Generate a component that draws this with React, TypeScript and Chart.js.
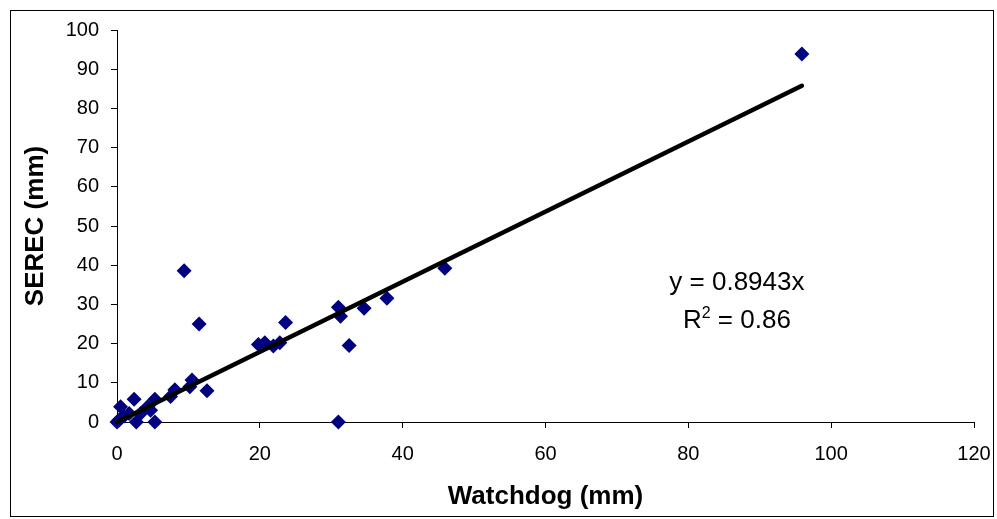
import React, { useEffect, useRef } from "react";
import { Chart, registerables } from "chart.js";

Chart.register(...registerables);

const watchdogX = [0, 0.3, 0.5, 1.0, 1.7, 2.4, 2.7, 3.3, 4.3, 4.7, 5.3, 5.3, 7.5, 8.1, 9.4, 10.2, 10.5, 11.5, 12.6, 19.8, 20.7, 21.9, 22.8, 23.6, 31.0, 31.3, 32.5, 31.0, 34.6, 37.8, 45.9, 95.9];
const serecY = [0, 0.5, 3.9, 1.5, 2.2, 5.8, 0, 2.2, 3.9, 3.0, 5.8, 0, 6.5, 8.2, 38.6, 9.0, 10.7, 25.0, 8.0, 19.8, 20.2, 19.4, 20.2, 25.4, 29.3, 27.0, 19.5, 0, 29.0, 31.6, 39.2, 93.9];
const trendSlope = 0.8943;
const trendX = [0, 95.9];
const rSquared = "0.86";
const xTicks = [0, 20, 40, 60, 80, 100, 120];
const yTicks = [0, 10, 20, 30, 40, 50, 60, 70, 80, 90, 100];

const FONT = "'Liberation Sans', Arial, sans-serif";

const decorPlugin = {
  id: "decor",
  afterDraw(chart: any) {
    const ctx = chart.ctx;
    ctx.save();
    ctx.strokeStyle = "#000";
    ctx.lineWidth = 1;
    ctx.strokeRect(10.5, 10.5, 983, 506);
    const xs = chart.scales.x;
    const ys = chart.scales.y;
    const cx = xs.getPixelForValue(86.8);
    ctx.fillStyle = "#000";
    ctx.textBaseline = "alphabetic";
    ctx.font = `26px ${FONT}`;
    const line1 = `y = ${trendSlope}x`;
    const w1 = ctx.measureText(line1).width;
    ctx.fillText(line1, cx - w1 / 2, ys.getPixelForValue(33.8));
    const partR = "R";
    const partRest = ` = ${rSquared}`;
    const wR = ctx.measureText(partR).width;
    const wRest = ctx.measureText(partRest).width;
    ctx.font = `16px ${FONT}`;
    const wSup = ctx.measureText("2").width;
    const total = wR + wSup + wRest;
    const x0 = cx - total / 2;
    const base2 = ys.getPixelForValue(24.1);
    ctx.font = `26px ${FONT}`;
    ctx.fillText(partR, x0, base2);
    ctx.fillText(partRest, x0 + wR + wSup, base2);
    ctx.font = `16px ${FONT}`;
    ctx.fillText("2", x0 + wR, base2 - 10);
    ctx.restore();
  },
};

export default function App() {
  const ref = useRef<HTMLCanvasElement | null>(null);
  useEffect(() => {
    document.body.style.margin = "0";
    const points = watchdogX.map((x, i) => ({ x, y: serecY[i] }));
    const trend = trendX.map((x) => ({ x, y: x * trendSlope }));
    const chart = new Chart(ref.current!, {
      type: "scatter",
      data: {
        datasets: [
          {
            type: "line",
            data: trend,
            borderColor: "#000",
            borderWidth: 4.5,
            borderCapStyle: "round",
            pointRadius: 0,
            showLine: true,
            clip: false,
            order: 0,
          } as any,
          {
            data: points,
            pointStyle: "rectRot",
            pointRadius: 7.5,
            backgroundColor: "#000080",
            borderColor: "#000080",
            borderWidth: 0,
            clip: false,
            order: 1,
          } as any,
        ],
      },
      options: {
        animation: false,
        responsive: false,
        layout: { padding: { top: 30, right: 23, left: 0, bottom: 0 } },
        plugins: { legend: { display: false }, tooltip: { enabled: false } },
        scales: {
          x: {
            type: "linear",
            min: 0,
            max: 120,
            afterFit(s: any) { s.height = 97; s.paddingLeft = 0; s.paddingRight = 0; },
            afterBuildTicks(s: any) { s.ticks = xTicks.map((v) => ({ value: v })); },
            grid: { drawOnChartArea: false, tickLength: 6, color: "#000" },
            border: { color: "#000", width: 1 },
            ticks: { color: "#000", padding: 14, font: { family: FONT, size: 20 }, maxRotation: 0 },
            title: {
              display: true,
              text: "Watchdog (mm)",
              color: "#000",
              font: { family: FONT, size: 26, weight: "bold" },
              padding: { top: 0, bottom: 7 },
            },
          },
          y: {
            type: "linear",
            min: 0,
            max: 100,
            afterFit(s: any) { s.width = 117; s.paddingTop = 0; s.paddingBottom = 0; },
            afterBuildTicks(s: any) { s.ticks = yTicks.map((v) => ({ value: v })); },
            grid: { drawOnChartArea: false, tickLength: 6, color: "#000" },
            border: { color: "#000", width: 1 },
            ticks: { color: "#000", padding: 12, font: { family: FONT, size: 20 } },
            title: {
              display: true,
              text: "SEREC (mm)",
              color: "#000",
              font: { family: FONT, size: 26, weight: "bold" },
              padding: { top: 20, bottom: 0 },
            },
          },
        },
      },
      plugins: [decorPlugin],
    });
    return () => chart.destroy();
  }, []);
  return <canvas ref={ref} width={997} height={519} style={{ display: "block" }} />;
}
